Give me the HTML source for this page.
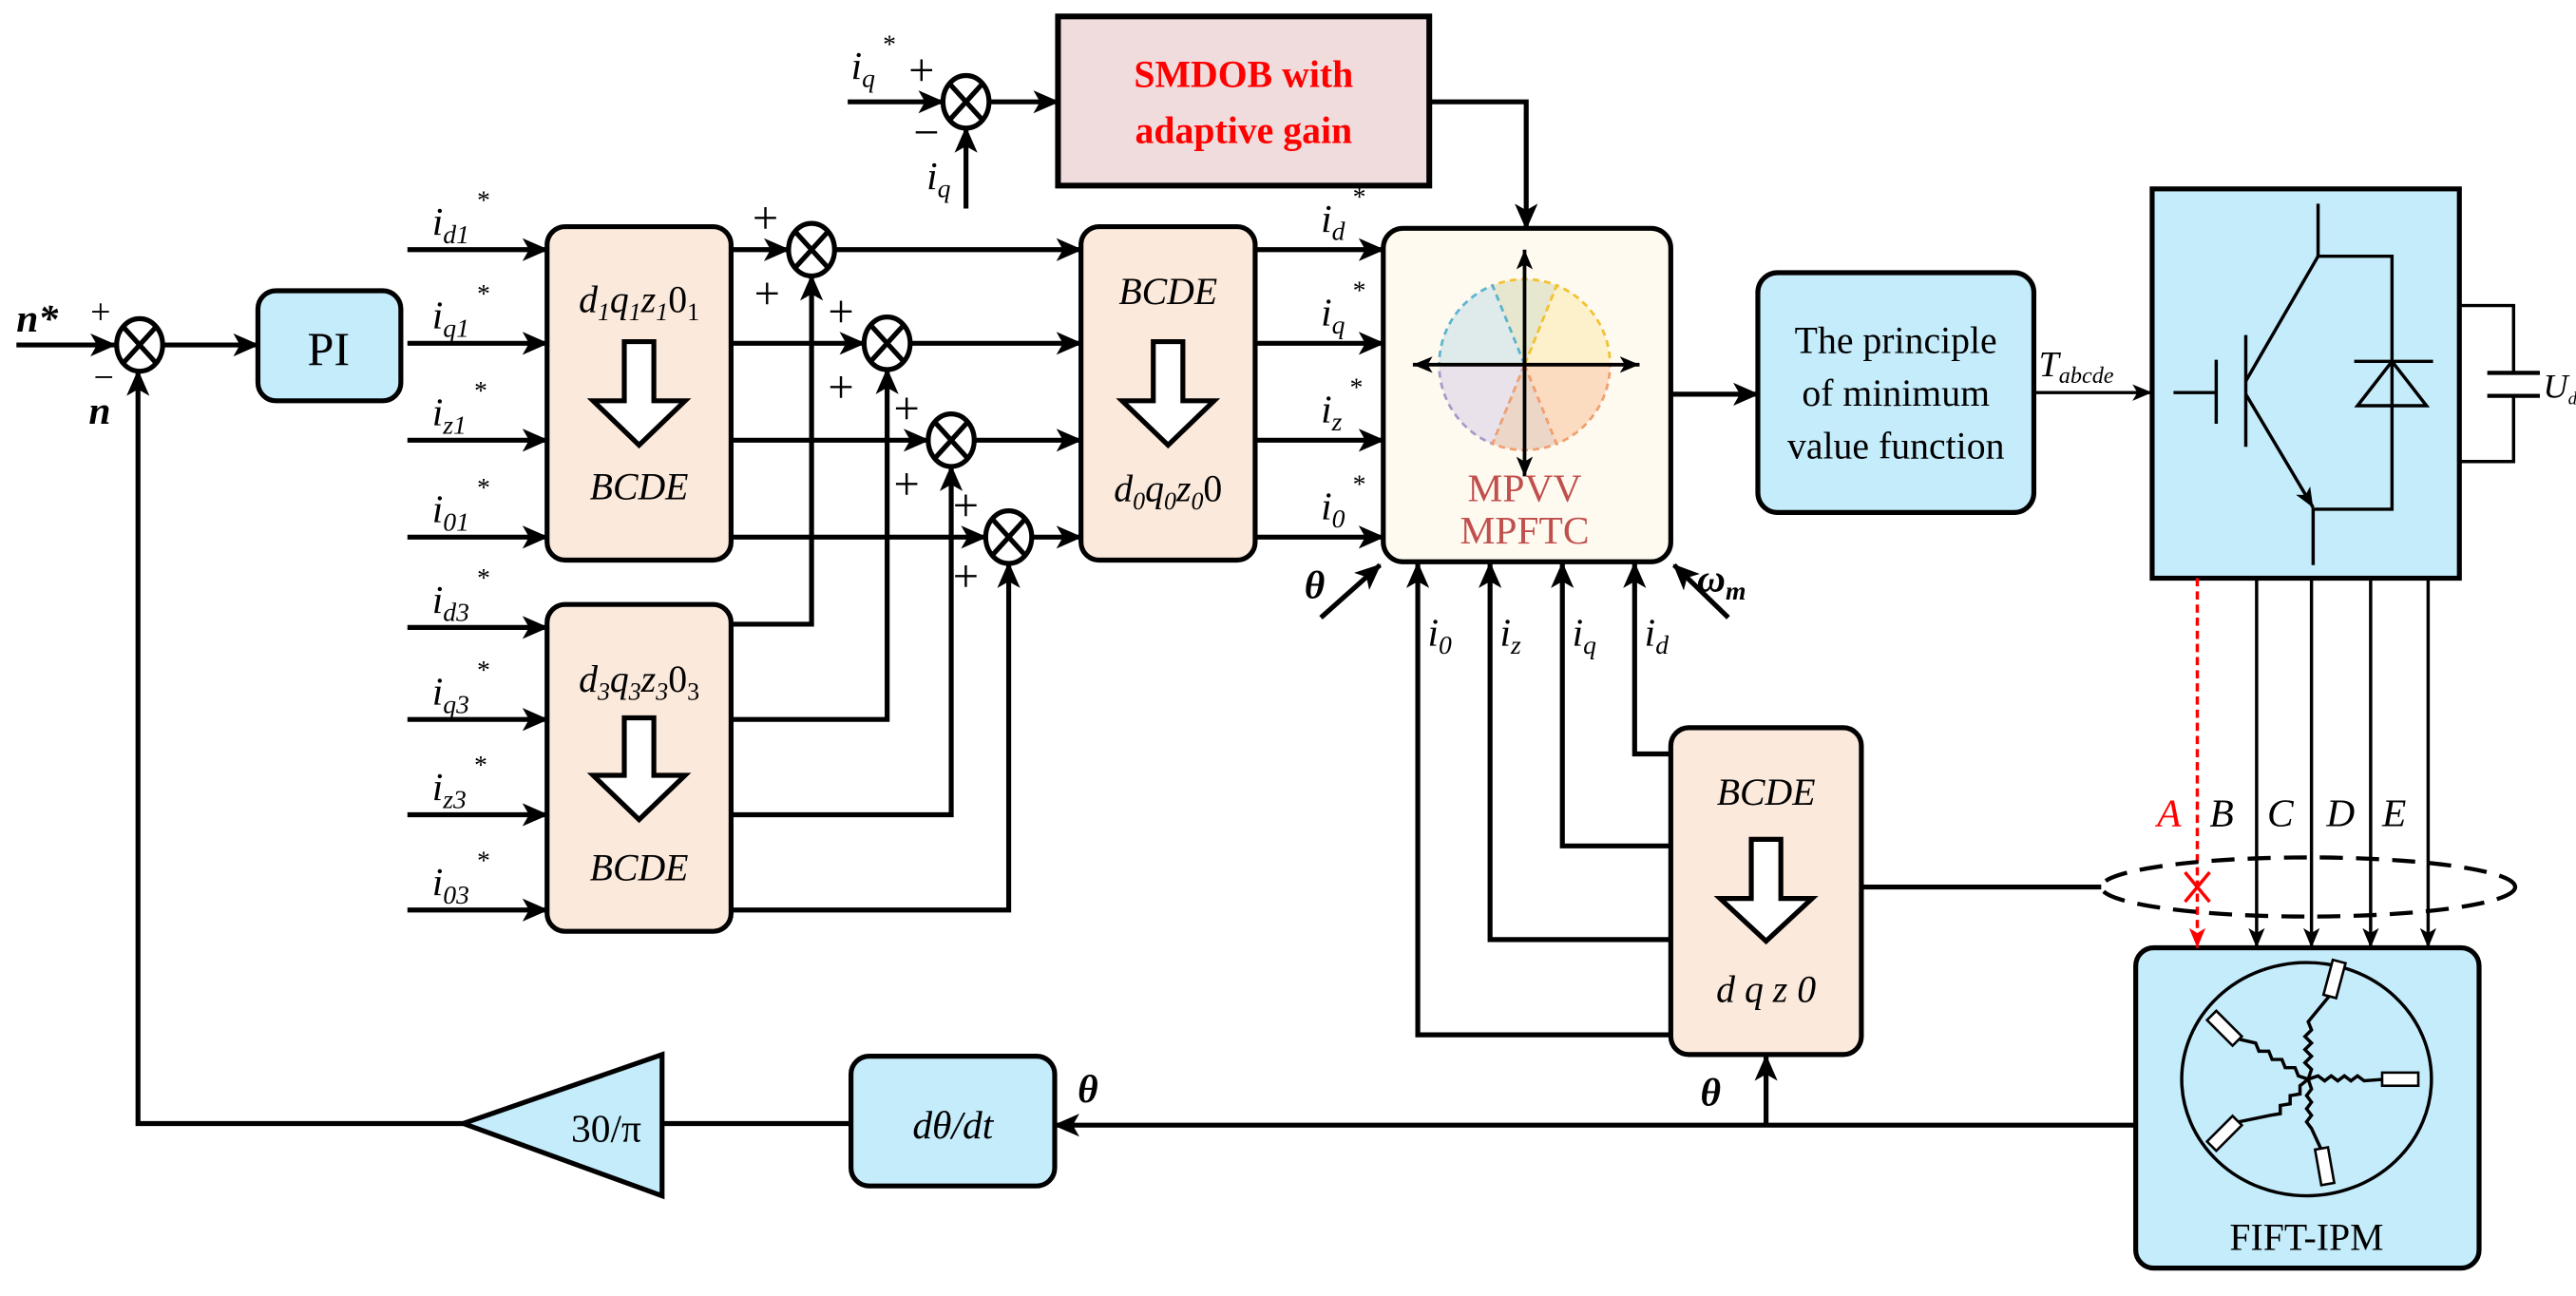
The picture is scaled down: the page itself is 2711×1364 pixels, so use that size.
<!DOCTYPE html>
<html><head><meta charset="utf-8"><style>
html,body{margin:0;padding:0;background:#fff;}
svg{display:block;}
.it{font-style:italic;}
</style></head><body>
<svg width="2711" height="1364" viewBox="0 0 1568 789" preserveAspectRatio="none" xmlns="http://www.w3.org/2000/svg" font-family="'Liberation Serif', 'DejaVu Serif', serif">
<defs>
<marker id="a" markerUnits="userSpaceOnUse" markerWidth="16" markerHeight="14" refX="15" refY="7" orient="auto"><path d="M0,0 L16,7 L0,14 L4,7 z" fill="#000"/></marker>
<marker id="as" markerUnits="userSpaceOnUse" markerWidth="12" markerHeight="12" refX="12" refY="5" orient="auto"><path d="M0,0 L12,5 L0,10 L3,5 z" fill="#000"/></marker>
<marker id="ar" markerUnits="userSpaceOnUse" markerWidth="12" markerHeight="12" refX="12" refY="5" orient="auto"><path d="M0,0 L12,5 L0,10 L3,5 z" fill="#f00"/></marker>
<marker id="ad" markerUnits="userSpaceOnUse" markerWidth="12" markerHeight="12" refX="12" refY="5" orient="auto-start-reverse"><path d="M0,0 L12,5 L0,10 L3,5 z" fill="#000"/></marker>
</defs>
<g stroke="#000" stroke-width="3" fill="none">
<line x1="10" y1="210" x2="70" y2="210" marker-end="url(#a)"/>
<line x1="100" y1="210" x2="157" y2="210" marker-end="url(#a)"/>
<polyline points="283,684 84,684 84,226" marker-end="url(#a)"/>
<line x1="248" y1="152" x2="333" y2="152" marker-end="url(#a)"/>
<line x1="248" y1="209" x2="333" y2="209" marker-end="url(#a)"/>
<line x1="248" y1="268" x2="333" y2="268" marker-end="url(#a)"/>
<line x1="248" y1="327" x2="333" y2="327" marker-end="url(#a)"/>
<line x1="248" y1="382" x2="333" y2="382" marker-end="url(#a)"/>
<line x1="248" y1="438" x2="333" y2="438" marker-end="url(#a)"/>
<line x1="248" y1="496" x2="333" y2="496" marker-end="url(#a)"/>
<line x1="248" y1="554" x2="333" y2="554" marker-end="url(#a)"/>
<line x1="445" y1="152" x2="480" y2="152" marker-end="url(#a)"/>
<line x1="445" y1="209" x2="526" y2="209" marker-end="url(#a)"/>
<line x1="445" y1="268" x2="565" y2="268" marker-end="url(#a)"/>
<line x1="445" y1="327" x2="600" y2="327" marker-end="url(#a)"/>
<polyline points="445,380 494,380 494,168" marker-end="url(#a)"/>
<polyline points="445,438 540,438 540,225" marker-end="url(#a)"/>
<polyline points="445,496 579,496 579,284" marker-end="url(#a)"/>
<polyline points="445,554 614,554 614,343" marker-end="url(#a)"/>
<line x1="509" y1="152" x2="658" y2="152" marker-end="url(#a)"/>
<line x1="555" y1="209" x2="658" y2="209" marker-end="url(#a)"/>
<line x1="594" y1="268" x2="658" y2="268" marker-end="url(#a)"/>
<line x1="629" y1="327" x2="658" y2="327" marker-end="url(#a)"/>
<line x1="764" y1="152" x2="842" y2="152" marker-end="url(#a)"/>
<line x1="764" y1="209" x2="842" y2="209" marker-end="url(#a)"/>
<line x1="764" y1="268" x2="842" y2="268" marker-end="url(#a)"/>
<line x1="764" y1="327" x2="842" y2="327" marker-end="url(#a)"/>
<line x1="516" y1="62" x2="574" y2="62" marker-end="url(#a)"/>
<line x1="602" y1="62" x2="644" y2="62" marker-end="url(#a)"/>
<line x1="588" y1="127" x2="588" y2="78" marker-end="url(#a)"/>
<polyline points="870,62 929,62 929,139" marker-end="url(#a)"/>
<line x1="804" y1="376" x2="840" y2="344" marker-end="url(#a)"/>
<line x1="1052" y1="376" x2="1019" y2="344" marker-end="url(#a)"/>
<polyline points="1017,630 863,630 863,343" marker-end="url(#a)"/>
<polyline points="1017,572 907,572 907,343" marker-end="url(#a)"/>
<polyline points="1017,515 951,515 951,343" marker-end="url(#a)"/>
<polyline points="1017,459 995,459 995,343" marker-end="url(#a)"/>
<line x1="1017" y1="240" x2="1070" y2="240" marker-end="url(#a)"/>
<line x1="1133" y1="540" x2="1279" y2="540"/>
<line x1="1300" y1="685" x2="642" y2="685" marker-end="url(#a)"/>
<line x1="1075" y1="685" x2="1075" y2="643" marker-end="url(#a)"/>
<line x1="518" y1="684" x2="403" y2="684"/>
</g>
<g stroke="#000" stroke-width="3" fill="#fff">
<g transform="translate(85,210)"><ellipse rx="14" ry="16"/><path d="M-10,-11 L10,11 M10,-11 L-10,11"/></g>
<g transform="translate(494,152)"><ellipse rx="14" ry="16"/><path d="M-10,-11 L10,11 M10,-11 L-10,11"/></g>
<g transform="translate(540,209)"><ellipse rx="14" ry="16"/><path d="M-10,-11 L10,11 M10,-11 L-10,11"/></g>
<g transform="translate(579,268)"><ellipse rx="14" ry="16"/><path d="M-10,-11 L10,11 M10,-11 L-10,11"/></g>
<g transform="translate(614,327)"><ellipse rx="14" ry="16"/><path d="M-10,-11 L10,11 M10,-11 L-10,11"/></g>
<g transform="translate(588,62)"><ellipse rx="14" ry="16"/><path d="M-10,-11 L10,11 M10,-11 L-10,11"/></g>
</g>
<g stroke="#000" stroke-width="3">
<rect x="157" y="177" width="87" height="67" rx="11" fill="#c5ecfb"/>
<rect x="333" y="138" width="112" height="203" rx="11" fill="#fbe9dc"/>
<rect x="333" y="368" width="112" height="199" rx="11" fill="#fbe9dc"/>
<rect x="658" y="138" width="106" height="203" rx="11" fill="#fbe9dc"/>
<rect x="644" y="10" width="226" height="103" fill="#f0dcdc" stroke-width="3.5"/>
<rect x="842" y="139" width="175" height="203" rx="12" fill="#fffaf0"/>
<rect x="1070" y="166" width="168" height="146" rx="12" fill="#c5ecfb"/>
<rect x="1310" y="115" width="187" height="237" fill="#c5ecfb"/>
<rect x="1017" y="443" width="116" height="199" rx="11" fill="#fbe9dc"/>
<rect x="518" y="643" width="124" height="79" rx="11" fill="#c5ecfb"/>
<polygon points="403,642 403,728 282,684" fill="#c5ecfb"/>
<rect x="1300" y="577" width="209" height="195" rx="11" fill="#c5ecfb"/>
</g>
<g stroke="#000" stroke-width="3" fill="#fff">
<polygon points="380,208 398,208 398,244 417,244 389,271 361,244 380,244"/>
<polygon points="380,437 398,437 398,472 417,472 389,499 361,472 380,472"/>
<polygon points="702,208 720,208 720,244 739,244 711,271 683,244 702,244"/>
<polygon points="1066,511 1084,511 1084,547 1103,547 1075,573 1047,547 1066,547"/>
</g>
<g stroke-width="1.6" stroke-dasharray="4,3">
<path d="M928,222 L980,222 A52,52 0 0 0 947.5,173.8 Z" fill="#fdf1cc" stroke="#f2c230"/>
<path d="M928,222 L947.5,173.8 A52,52 0 0 0 908.5,173.8 Z" fill="#e7e7cf" stroke="#f2c230"/>
<path d="M928,222 L908.5,173.8 A52,52 0 0 0 876,222 Z" fill="#dfeaea" stroke="#5bb4d0"/>
<path d="M928,222 L876,222 A52,52 0 0 0 908.5,270.2 Z" fill="#e9e2ea" stroke="#a99ac8"/>
<path d="M928,222 L908.5,270.2 A52,52 0 0 0 947.5,270.2 Z" fill="#ecd6c8" stroke="#f0a070"/>
<path d="M928,222 L947.5,270.2 A52,52 0 0 0 980,222 Z" fill="#fcdcc0" stroke="#f0a070"/>
</g>
<g stroke="#000" stroke-width="2.2">
<line x1="928" y1="152" x2="928" y2="290" marker-start="url(#ad)" marker-end="url(#ad)"/>
<line x1="860" y1="222" x2="998" y2="222" marker-start="url(#ad)" marker-end="url(#ad)"/>
</g>
<g stroke="#000" stroke-width="2" fill="none">
<polyline points="1411,124 1411,156 1456,156 1456,310 1408,310 1408,344"/>
<line x1="1367" y1="204" x2="1367" y2="272"/>
<line x1="1349" y1="219" x2="1349" y2="258"/>
<line x1="1323" y1="239" x2="1349" y2="239"/>
<line x1="1367" y1="232" x2="1411" y2="156"/>
<line x1="1367" y1="240" x2="1408" y2="309" marker-end="url(#as)"/>
<line x1="1433" y1="220" x2="1481" y2="220"/>
<polygon points="1456,220 1435,247 1477,247"/>
<polyline points="1497,186 1530,186 1530,227"/>
<polyline points="1530,241 1530,281 1497,281"/>
<line x1="1514" y1="227" x2="1546" y2="227" stroke-width="2.5"/>
<line x1="1514" y1="241" x2="1546" y2="241" stroke-width="2.5"/>
<line x1="1238" y1="239" x2="1310" y2="239" marker-end="url(#as)"/>
<line x1="1373.6" y1="352" x2="1373.6" y2="577" marker-end="url(#as)"/>
<line x1="1407" y1="352" x2="1407" y2="577" marker-end="url(#as)"/>
<line x1="1443" y1="352" x2="1443" y2="577" marker-end="url(#as)"/>
<line x1="1478" y1="352" x2="1478" y2="577" marker-end="url(#as)"/>
</g>
<line x1="1337.5" y1="352" x2="1337.5" y2="577" stroke="#f00" stroke-width="2" stroke-dasharray="5,3" marker-end="url(#ar)"/>
<path d="M1330,531 L1345,549 M1345,531 L1330,549" stroke="#f00" stroke-width="2"/>
<ellipse cx="1405" cy="540" rx="126" ry="18" fill="none" stroke="#000" stroke-width="2.5" stroke-dasharray="14,8"/>
<g stroke="#000" stroke-width="2" fill="none">
<ellipse cx="1404" cy="657" rx="76" ry="71"/>
<path d="M1405,657 l2,-6 l-4,-4 l4,-4 l-4,-4 l4,-4 l-4,-4 l4,-4 l-2,-5 L1419,605"/>
<path d="M1405,657 l-6,-2 l-2,-5 l-6,0 l-2,-5 l-6,0 l-2,-5 l-6,0 l-2,-5 L1360,632"/>
<path d="M1405,657 l6,-2 l4,3 l4,-3 l4,3 l4,-3 l4,3 l4,-3 l4,3 L1452,657"/>
<path d="M1405,657 l-5,4 l0,5 l-6,1 l0,5 l-6,1 l0,5 l-6,1 L1358,684"/>
<path d="M1405,657 l2,6 l-3,4 l3,4 l-3,4 l3,4 l-3,4 l3,4 L1413,700"/>
</g>
<g stroke="#000" stroke-width="1.5" fill="#fff">
<rect x="-4" y="-11" width="8" height="22" transform="translate(1421,596) rotate(15)"/>
<rect x="-4" y="-11" width="8" height="22" transform="translate(1354,626) rotate(-45)"/>
<rect x="-11" y="-4" width="22" height="8" transform="translate(1461,657)"/>
<rect x="-4" y="-11" width="8" height="22" transform="translate(1354,690) rotate(45)"/>
<rect x="-4" y="-11" width="8" height="22" transform="translate(1415,710) rotate(-10)"/>
</g>
<g font-size="24" fill="#000">
<text x="10" y="202" class="it" font-weight="bold" font-size="24">n*</text>
<text x="55" y="197" font-size="22">+</text>
<text x="57" y="237" font-size="22">−</text>
<text x="54" y="258" class="it" font-weight="bold" font-size="24">n</text>
<text x="200" y="222" text-anchor="middle" font-size="29">PI</text>
<text x="263" y="143" class="it">i<tspan font-size="16" dy="5">d1</tspan><tspan font-size="16" dy="-21" dx="4">*</tspan></text>
<text x="263" y="200" class="it">i<tspan font-size="16" dy="5">q1</tspan><tspan font-size="16" dy="-21" dx="4">*</tspan></text>
<text x="263" y="259" class="it">i<tspan font-size="16" dy="5">z1</tspan><tspan font-size="16" dy="-21" dx="4">*</tspan></text>
<text x="263" y="318" class="it">i<tspan font-size="16" dy="5">01</tspan><tspan font-size="16" dy="-21" dx="4">*</tspan></text>
<text x="263" y="373" class="it">i<tspan font-size="16" dy="5">d3</tspan><tspan font-size="16" dy="-21" dx="4">*</tspan></text>
<text x="263" y="429" class="it">i<tspan font-size="16" dy="5">q3</tspan><tspan font-size="16" dy="-21" dx="4">*</tspan></text>
<text x="263" y="487" class="it">i<tspan font-size="16" dy="5">z3</tspan><tspan font-size="16" dy="-21" dx="4">*</tspan></text>
<text x="263" y="545" class="it">i<tspan font-size="16" dy="5">03</tspan><tspan font-size="16" dy="-21" dx="4">*</tspan></text>
<text x="389" y="190" text-anchor="middle" class="it" font-size="23">d<tspan font-size="15" dy="5">1</tspan><tspan dy="-5">q</tspan><tspan font-size="15" dy="5">1</tspan><tspan dy="-5">z</tspan><tspan font-size="15" dy="5">1</tspan><tspan dy="-5" font-style="normal">0</tspan><tspan font-size="15" dy="5" font-style="normal">1</tspan></text>
<text x="389" y="304" text-anchor="middle" class="it" font-size="23">BCDE</text>
<text x="389" y="421" text-anchor="middle" class="it" font-size="23">d<tspan font-size="15" dy="5">3</tspan><tspan dy="-5">q</tspan><tspan font-size="15" dy="5">3</tspan><tspan dy="-5">z</tspan><tspan font-size="15" dy="5">3</tspan><tspan dy="-5" font-style="normal">0</tspan><tspan font-size="15" dy="5" font-style="normal">3</tspan></text>
<text x="389" y="536" text-anchor="middle" class="it" font-size="23">BCDE</text>
<text x="711" y="185" text-anchor="middle" class="it" font-size="23">BCDE</text>
<text x="711" y="305" text-anchor="middle" class="it" font-size="23">d<tspan font-size="15" dy="5">0</tspan><tspan dy="-5">q</tspan><tspan font-size="15" dy="5">0</tspan><tspan dy="-5">z</tspan><tspan font-size="15" dy="5">0</tspan><tspan dy="-5" font-style="normal">0</tspan></text>
<g font-size="28">
<text x="458" y="142">+</text><text x="459" y="188">+</text>
<text x="504" y="199">+</text><text x="504" y="245">+</text>
<text x="544" y="258">+</text><text x="544" y="304">+</text>
<text x="580" y="317">+</text><text x="580" y="360">+</text>
<text x="553" y="52">+</text><text x="556" y="90">−</text>
</g>
<text x="518" y="48" class="it">i<tspan font-size="16" dy="5">q</tspan><tspan font-size="16" dy="-21" dx="4">*</tspan></text>
<text x="564" y="115" class="it">i<tspan font-size="16" dy="5">q</tspan></text>
<text x="757" y="53" text-anchor="middle" fill="#f00" font-weight="bold" font-size="23">SMDOB with</text>
<text x="757" y="87" text-anchor="middle" fill="#f00" font-weight="bold" font-size="23">adaptive gain</text>
<text x="804" y="141" class="it">i<tspan font-size="16" dy="5">d</tspan><tspan font-size="16" dy="-21" dx="4">*</tspan></text>
<text x="804" y="198" class="it">i<tspan font-size="16" dy="5">q</tspan><tspan font-size="16" dy="-21" dx="4">*</tspan></text>
<text x="804" y="257" class="it">i<tspan font-size="16" dy="5">z</tspan><tspan font-size="16" dy="-21" dx="4">*</tspan></text>
<text x="804" y="316" class="it">i<tspan font-size="16" dy="5">0</tspan><tspan font-size="16" dy="-21" dx="4">*</tspan></text>
<text x="928" y="305" text-anchor="middle" fill="#c0504d" font-size="24">MPVV</text>
<text x="928" y="331" text-anchor="middle" fill="#c0504d" font-size="24">MPFTC</text>
<text x="794" y="364" class="it" font-weight="bold">θ</text>
<text x="1033" y="360" class="it" font-weight="bold">ω<tspan font-size="16" dy="5">m</tspan></text>
<text x="869" y="393" class="it">i<tspan font-size="16" dy="5">0</tspan></text>
<text x="913" y="393" class="it">i<tspan font-size="16" dy="5">z</tspan></text>
<text x="957" y="393" class="it">i<tspan font-size="16" dy="5">q</tspan></text>
<text x="1001" y="393" class="it">i<tspan font-size="16" dy="5">d</tspan></text>
<text x="1154" y="215" text-anchor="middle" font-size="23">The principle</text>
<text x="1154" y="247" text-anchor="middle" font-size="23">of minimum</text>
<text x="1154" y="279" text-anchor="middle" font-size="23">value function</text>
<text x="1241" y="229" class="it" font-size="22">T<tspan font-size="14" dy="4">abcde</tspan></text>
<text x="1548" y="242" class="it" font-size="21">U<tspan font-size="11" dy="4">dc</tspan></text>
<text x="1313" y="503" class="it" fill="#f00">A</text>
<text x="1345" y="503" class="it">B</text>
<text x="1380" y="503" class="it">C</text>
<text x="1416" y="503" class="it">D</text>
<text x="1450" y="503" class="it">E</text>
<text x="1075" y="490" text-anchor="middle" class="it" font-size="23">BCDE</text>
<text x="1075" y="610" text-anchor="middle" class="it" font-size="23">d q z 0</text>
<text x="1035" y="673" class="it" font-weight="bold">θ</text>
<text x="656" y="671" class="it" font-weight="bold">θ</text>
<text x="580" y="693" text-anchor="middle" class="it" font-size="24">dθ/dt</text>
<text x="369" y="695" text-anchor="middle" font-size="24">30/π</text>
<text x="1404" y="761" text-anchor="middle" font-size="23">FIFT-IPM</text>
</g>
</svg>
</body></html>
